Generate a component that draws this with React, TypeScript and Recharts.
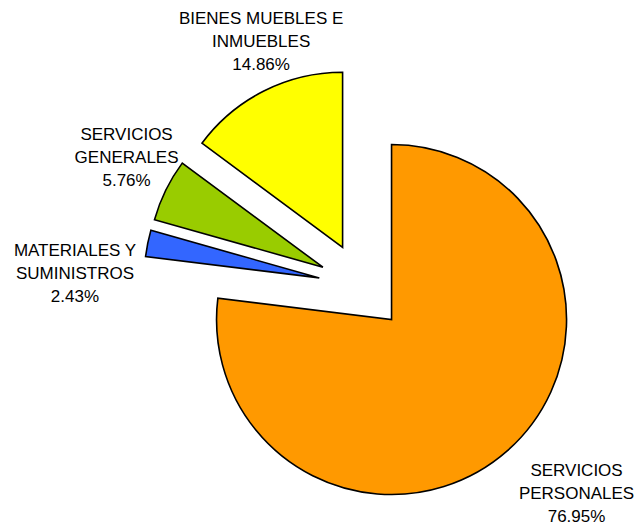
import React from 'react';
import { PieChart, Pie, Cell } from 'recharts';

// ---- data ----
const CATEGORIES = [
  'SERVICIOS PERSONALES',
  'MATERIALES Y SUMINISTROS',
  'SERVICIOS GENERALES',
  'BIENES MUEBLES E INMUEBLES',
];
const LABEL_LINES = [
  ['SERVICIOS', 'PERSONALES'],
  ['MATERIALES Y', 'SUMINISTROS'],
  ['SERVICIOS', 'GENERALES'],
  ['BIENES MUEBLES E', 'INMUEBLES'],
];
const VALUES = [76.95, 2.43, 5.76, 14.86];
const COLORS = ['#FF9900', '#3366FF', '#99CC00', '#FFFF00'];

// ---- layout ----
const WIDTH = 635;
const HEIGHT = 529;
const CENTER = { x: 362.4, y: 286.6 };
const RADIUS = 175;
const EXPLODE = 44;
const LABEL_PLACE = [
  { r: 257.9, da: 4.34 },
  { r: 244.3, da: 11.7 },
  { r: 222.2, da: -1.8 },
  { r: 216.6, da: -4.65 },
];
const LINE_H = 23;
const RAD = Math.PI / 180;

export default function App() {
  const total = VALUES.reduce((a, b) => a + b, 0);
  let cum = 0;
  const slices = VALUES.map((v, i) => {
    const start = 90 - (360 * cum) / total;
    cum += v;
    const end = 90 - (360 * cum) / total;
    const mid = (start + end) / 2;
    const cx = CENTER.x + EXPLODE * Math.cos(mid * RAD);
    const cy = CENTER.y - EXPLODE * Math.sin(mid * RAD);
    return { i, v, start, end, mid, cx, cy };
  });

  return (
    <div style={{ position: 'absolute', left: 0, top: 0 }}>
      <PieChart width={WIDTH} height={HEIGHT} margin={{ top: 0, right: 0, bottom: 0, left: 0 }}>
        {slices.map((s) => {
          const data = [{ name: CATEGORIES[s.i], value: s.v }];
          const renderLabel = () => {
            const place = LABEL_PLACE[s.i];
            const la = (s.mid + place.da) * RAD;
            const x = s.cx + place.r * Math.cos(la);
            const y = s.cy - place.r * Math.sin(la);
            const lines = [...LABEL_LINES[s.i], `${s.v.toFixed(2)}%`];
            return (
              <text
                x={x}
                y={y}
                textAnchor="middle"
                fontFamily="'Liberation Sans', Arial, sans-serif"
                fontSize={17}
                fill="#000"
              >
                {lines.map((t, k) => (
                  <tspan key={k} x={x} y={y + (k - 1) * LINE_H}>
                    {t}
                  </tspan>
                ))}
              </text>
            );
          };
          return (
            <Pie
              key={s.i}
              data={data}
              dataKey="value"
              nameKey="name"
              cx={s.cx}
              cy={s.cy}
              outerRadius={RADIUS}
              innerRadius={0}
              startAngle={s.start}
              endAngle={s.end}
              stroke="#000"
              strokeWidth={1.6}
              isAnimationActive={false}
              labelLine={false}
              label={renderLabel}
            >
              <Cell fill={COLORS[s.i]} />
            </Pie>
          );
        })}
      </PieChart>
    </div>
  );
}
